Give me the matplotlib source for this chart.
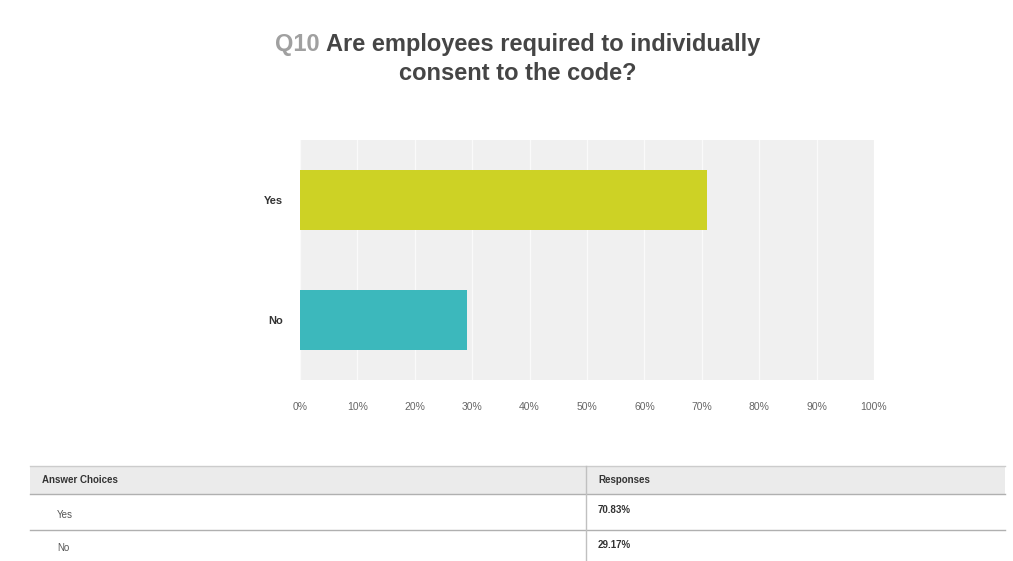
import matplotlib.pyplot as plt
from matplotlib.lines import Line2D
from matplotlib.patches import Rectangle

plt.rcParams['font.family'] = ['Liberation Sans', 'DejaVu Sans']

categories = ['No', 'Yes']
values = [29.17, 70.83]
bar_colors = ['#3cb8bc', '#cdd225']
ticks = list(range(0, 101, 10))
tick_labels = [f'{t}%' for t in ticks]

table_header = ['Answer Choices', 'Responses']
table_rows = [['Yes', '70.83%'], ['No', '29.17%']]

W, H = 1013, 561
fig = plt.figure(figsize=(W / 100, H / 100), dpi=100)
fig.patch.set_facecolor('white')


def fx(px):
    return px / W


def fy(py):
    return 1 - py / H


# title, "Q10" in light grey, rest dark
renderer = fig.canvas.get_renderer()
t1 = fig.text(0, 0, 'Q10 ', fontsize=17, fontweight='bold', color='#a0a0a0')
t2 = fig.text(0, 0, 'Are employees required to individually', fontsize=17,
              fontweight='bold', color='#454545')
w1 = t1.get_window_extent(renderer).width
w2 = t2.get_window_extent(renderer).width
x0 = 518 - (w1 + w2) / 2
t1.set_position((fx(x0), fy(44)))
t2.set_position((fx(x0 + w1), fy(44)))
t1.set_va('center')
t2.set_va('center')
fig.text(fx(518), fy(74), 'consent to the code?', fontsize=17, fontweight='bold',
         color='#454545', ha='center', va='center')

# bar chart
ax = fig.add_axes([fx(300), fy(380), fx(874) - fx(300), (380 - 140) / H])
ax.set_facecolor('#f0f0f0')
ax.barh(categories, values, height=0.5, color=bar_colors, zorder=3)
ax.set_xlim(0, 100)
ax.set_ylim(-0.5, 1.5)
ax.set_xticks(ticks)
ax.set_xticklabels(tick_labels, fontsize=7.5, color='#666666')
ax.xaxis.grid(True, color='#fafafa', linewidth=1, zorder=1)
ax.tick_params(axis='x', length=0, pad=16)
ax.tick_params(axis='y', length=0, pad=12, labelsize=8)
for lbl in ax.get_yticklabels():
    lbl.set_fontweight('bold')
    lbl.set_color('#333333')
for s in ax.spines.values():
    s.set_visible(False)

# response table
tx0, tx1, tdiv = 30, 1005, 586
fig.patches.append(Rectangle((fx(tx0), fy(494)), fx(tx1) - fx(tx0), (494 - 466) / H,
                             transform=fig.transFigure, facecolor='#ebebeb',
                             edgecolor='none'))
for yy, c in [(466, '#cccccc'), (494, '#b0b0b0'), (530, '#b0b0b0')]:
    fig.lines.append(Line2D([fx(tx0), fx(tx1)], [fy(yy), fy(yy)],
                            transform=fig.transFigure, color=c, linewidth=1))
fig.lines.append(Line2D([fx(tdiv), fx(tdiv)], [fy(466), fy(561)],
                        transform=fig.transFigure, color='#c0c0c0', linewidth=1))

fig.text(fx(42), fy(480), table_header[0], fontsize=7, fontweight='bold',
         color='#333333', va='center')
fig.text(fx(598), fy(480), table_header[1], fontsize=7, fontweight='bold',
         color='#333333', va='center')
row_y = [(515, 510), (548, 545)]
for (name, pct), (ly, py) in zip(table_rows, row_y):
    fig.text(fx(57), fy(ly), name, fontsize=7, color='#555555', va='center')
    fig.text(fx(598), fy(py), pct, fontsize=7, fontweight='bold',
             color='#333333', va='center')

fig.savefig('out.png', dpi=100, facecolor='white')
